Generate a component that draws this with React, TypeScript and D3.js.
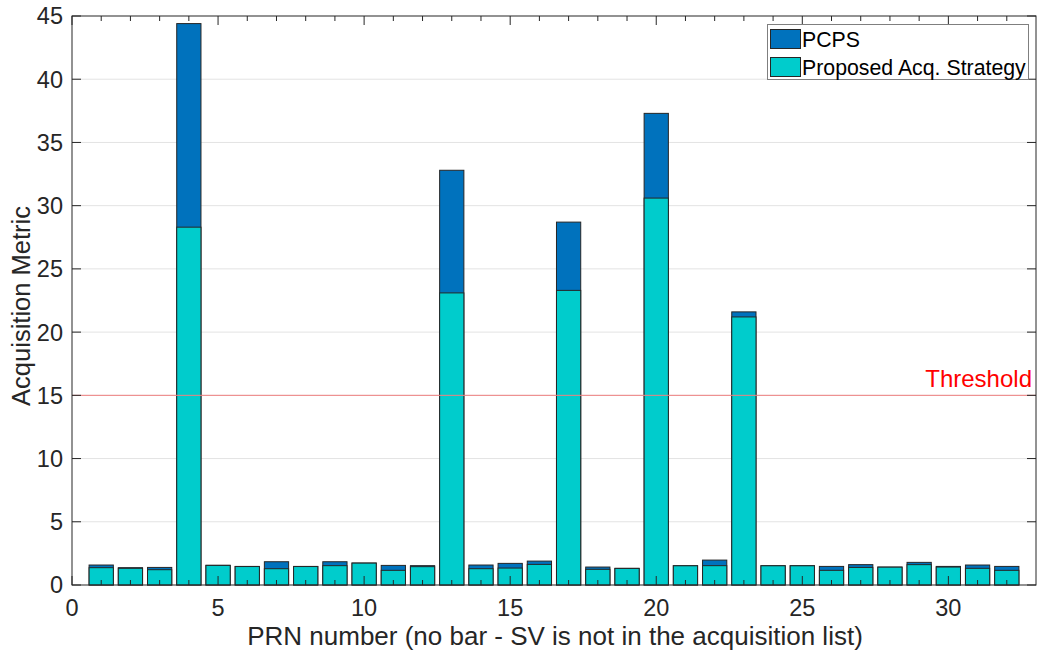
import React from "react";
import * as d3 from "d3";

// PRN numbers of the satellites in the acquisition list
const prns = [1, 2, 3, 4, 5, 6, 7, 8, 9, 10, 11, 12, 13, 14, 15, 16, 17, 18, 19, 20, 21, 22, 23, 24, 25, 26, 27, 28, 29, 30, 31, 32];

// Acquisition metric per PRN, PCPS
const pcps = [1.58, 1.37, 1.39, 44.4, 1.56, 1.47, 1.84, 1.47, 1.84, 1.74, 1.55, 1.53, 32.8, 1.58, 1.71, 1.89, 28.7, 1.42, 1.32, 37.3, 1.53, 1.97, 21.6, 1.53, 1.53, 1.47, 1.61, 1.42, 1.79, 1.47, 1.58, 1.47];

// Acquisition metric per PRN, proposed acquisition strategy
const proposed = [1.37, 1.32, 1.21, 28.3, 1.55, 1.46, 1.29, 1.46, 1.53, 1.73, 1.16, 1.45, 23.1, 1.29, 1.34, 1.63, 23.3, 1.24, 1.31, 30.6, 1.52, 1.53, 21.2, 1.52, 1.52, 1.16, 1.39, 1.41, 1.61, 1.42, 1.32, 1.16];

const xTicks = [0, 5, 10, 15, 20, 25, 30];
const xMinorTicks = [1, 2, 3, 4, 6, 7, 8, 9, 11, 12, 13, 14, 16, 17, 18, 19, 21, 22, 23, 24, 26, 27, 28, 29, 31, 32];
const yTicks = [0, 5, 10, 15, 20, 25, 30, 35, 40, 45];
const threshold = 15;

const seriesNames = ["PCPS", "Proposed Acq. Strategy"];
const seriesColors = ["#0072bd", "#00cccc"];

const W = 1037;
const H = 658;
const left = 72;
const right = 1036;
const top = 16;
const bottom = 585;
const FONT = "'Liberation Sans', Arial, Helvetica, sans-serif";
const AXIS = "#262626";

export default function App() {
  const x = d3.scaleLinear().domain([0, 33]).range([left, right]);
  const y = d3.scaleLinear().domain([0, 45]).range([bottom, top]);
  const bw = (x(1) - x(0)) * 0.83;

  return (
    <svg
      width={W}
      height={H}
      style={{ position: "absolute", left: 0, top: 0, background: "#fff" }}
      fontFamily={FONT}
    >
      {/* horizontal grid */}
      {yTicks.slice(1, -1).map((t) => (
        <line key={"g" + t} x1={left} x2={right} y1={y(t)} y2={y(t)} stroke="#e3e3e3" strokeWidth={1} />
      ))}

      {/* PCPS bars behind, proposed strategy bars in front */}
      {[pcps, proposed].map((vals, si) => (
        <g key={"s" + si}>
          {prns.map((p, i) => (
            <rect
              key={p}
              x={x(p) - bw / 2}
              y={y(vals[i])}
              width={bw}
              height={y(0) - y(vals[i])}
              fill={seriesColors[si]}
              stroke="#262626"
              strokeWidth={1}
            />
          ))}
        </g>
      ))}

      {/* threshold */}
      <line x1={left} x2={right} y1={y(threshold)} y2={y(threshold)} stroke="#f08080" strokeWidth={1} />
      <text x={1032} y={y(threshold) - 8} textAnchor="end" fontSize={24} fill="#ff0000">
        Threshold
      </text>

      {/* axes box */}
      <rect x={left} y={top} width={right - left} height={bottom - top} fill="none" stroke={AXIS} strokeWidth={1} />

      {/* x ticks, bottom and top */}
      {xTicks.map((t) => (
        <g key={"xt" + t}>
          <line x1={x(t)} x2={x(t)} y1={bottom} y2={bottom - 9} stroke={AXIS} />
          <line x1={x(t)} x2={x(t)} y1={top} y2={top + 9} stroke={AXIS} />
          <text x={x(t)} y={bottom + 31} textAnchor="middle" fontSize={23.5} fill={AXIS}>
            {t}
          </text>
        </g>
      ))}
      {xMinorTicks.map((t) => (
        <g key={"xm" + t}>
          <line x1={x(t)} x2={x(t)} y1={bottom} y2={bottom - 5} stroke={AXIS} />
          <line x1={x(t)} x2={x(t)} y1={top} y2={top + 5} stroke={AXIS} />
        </g>
      ))}

      {/* y ticks, left and right */}
      {yTicks.map((t) => (
        <g key={"yt" + t}>
          <line x1={left} x2={left + 9} y1={y(t)} y2={y(t)} stroke={AXIS} />
          <line x1={right} x2={right - 9} y1={y(t)} y2={y(t)} stroke={AXIS} />
          <text x={left - 9} y={y(t)} dy="0.36em" textAnchor="end" fontSize={23.5} fill={AXIS}>
            {t}
          </text>
        </g>
      ))}

      {/* axis labels */}
      <text x={555} y={645} textAnchor="middle" fontSize={26} fill={AXIS}>
        PRN number (no bar - SV is not in the acquisition list)
      </text>
      <text
        transform={`translate(30,${306}) rotate(-90)`}
        textAnchor="middle"
        fontSize={25.5}
        fill={AXIS}
      >
        Acquisition Metric
      </text>

      {/* legend */}
      <g>
        <rect x={767.5} y={24.5} width={261} height={55} fill="#fff" stroke="#7f7f7f" strokeWidth={1} />
        {seriesNames.map((name, i) => (
          <g key={name} transform={`translate(0,${i * 28})`}>
            <rect x={770.5} y={29.5} width={30} height={19} fill={seriesColors[i]} stroke="#262626" strokeWidth={1} />
            <text x={802} y={39} dy="0.36em" fontSize={21.3} fill="#000">
              {name}
            </text>
          </g>
        ))}
      </g>
    </svg>
  );
}
